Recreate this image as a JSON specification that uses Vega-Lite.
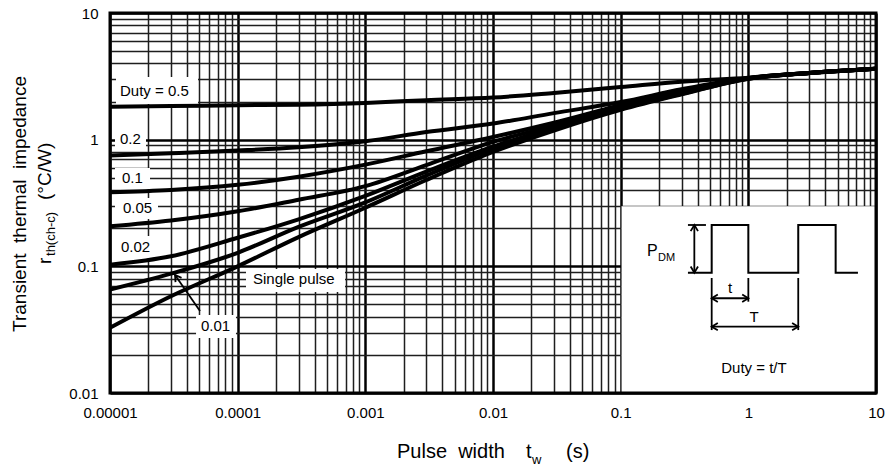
{
  "$schema": "https://vega.github.io/schema/vega-lite/v6.json",
  "width": 766,
  "height": 380,
  "autosize": {"type": "none"},
  "padding": {"left": 110, "top": 13, "right": 12, "bottom": 77},
  "background": "white",
  "config": {"view": {"stroke": null}, "font": "Liberation Sans", "text": {"font": "Liberation Sans", "color": "black"}},
  "datasets": {
    "curves": [
      {"duty": "0.5", "x": 0.00001, "y": 1.82}, {"duty": "0.5", "x": 0.00003, "y": 1.84}, {"duty": "0.5", "x": 0.0001, "y": 1.87}, {"duty": "0.5", "x": 0.0003, "y": 1.89}, {"duty": "0.5", "x": 0.001, "y": 1.95}, {"duty": "0.5", "x": 0.003, "y": 2.05}, {"duty": "0.5", "x": 0.01, "y": 2.15}, {"duty": "0.5", "x": 0.03, "y": 2.34}, {"duty": "0.5", "x": 0.1, "y": 2.6}, {"duty": "0.5", "x": 0.3, "y": 2.87}, {"duty": "0.5", "x": 1, "y": 3.08}, {"duty": "0.5", "x": 3, "y": 3.36}, {"duty": "0.5", "x": 10, "y": 3.63},
      {"duty": "0.2", "x": 0.00001, "y": 0.75}, {"duty": "0.2", "x": 0.00003, "y": 0.78}, {"duty": "0.2", "x": 0.0001, "y": 0.82}, {"duty": "0.2", "x": 0.0003, "y": 0.87}, {"duty": "0.2", "x": 0.001, "y": 0.97}, {"duty": "0.2", "x": 0.003, "y": 1.15}, {"duty": "0.2", "x": 0.01, "y": 1.34}, {"duty": "0.2", "x": 0.03, "y": 1.62}, {"duty": "0.2", "x": 0.1, "y": 1.98}, {"duty": "0.2", "x": 0.3, "y": 2.5}, {"duty": "0.2", "x": 1, "y": 3.07}, {"duty": "0.2", "x": 3, "y": 3.36}, {"duty": "0.2", "x": 10, "y": 3.63},
      {"duty": "0.1", "x": 0.00001, "y": 0.384}, {"duty": "0.1", "x": 0.00003, "y": 0.4}, {"duty": "0.1", "x": 0.0001, "y": 0.44}, {"duty": "0.1", "x": 0.0003, "y": 0.51}, {"duty": "0.1", "x": 0.001, "y": 0.635}, {"duty": "0.1", "x": 0.003, "y": 0.81}, {"duty": "0.1", "x": 0.01, "y": 1.05}, {"duty": "0.1", "x": 0.03, "y": 1.36}, {"duty": "0.1", "x": 0.1, "y": 1.87}, {"duty": "0.1", "x": 0.3, "y": 2.41}, {"duty": "0.1", "x": 1, "y": 3.06}, {"duty": "0.1", "x": 3, "y": 3.36}, {"duty": "0.1", "x": 10, "y": 3.63},
      {"duty": "0.05", "x": 0.00001, "y": 0.207}, {"duty": "0.05", "x": 0.00003, "y": 0.23}, {"duty": "0.05", "x": 0.0001, "y": 0.272}, {"duty": "0.05", "x": 0.0003, "y": 0.336}, {"duty": "0.05", "x": 0.001, "y": 0.43}, {"duty": "0.05", "x": 0.003, "y": 0.63}, {"duty": "0.05", "x": 0.01, "y": 0.96}, {"duty": "0.05", "x": 0.03, "y": 1.29}, {"duty": "0.05", "x": 0.1, "y": 1.82}, {"duty": "0.05", "x": 0.3, "y": 2.36}, {"duty": "0.05", "x": 1, "y": 3.05}, {"duty": "0.05", "x": 3, "y": 3.36}, {"duty": "0.05", "x": 10, "y": 3.63},
      {"duty": "0.02", "x": 0.00001, "y": 0.103}, {"duty": "0.02", "x": 0.00003, "y": 0.12}, {"duty": "0.02", "x": 0.0001, "y": 0.168}, {"duty": "0.02", "x": 0.0003, "y": 0.235}, {"duty": "0.02", "x": 0.001, "y": 0.36}, {"duty": "0.02", "x": 0.003, "y": 0.56}, {"duty": "0.02", "x": 0.01, "y": 0.88}, {"duty": "0.02", "x": 0.03, "y": 1.24}, {"duty": "0.02", "x": 0.1, "y": 1.78}, {"duty": "0.02", "x": 0.3, "y": 2.33}, {"duty": "0.02", "x": 1, "y": 3.04}, {"duty": "0.02", "x": 3, "y": 3.36}, {"duty": "0.02", "x": 10, "y": 3.63},
      {"duty": "0.01", "x": 0.00001, "y": 0.0655}, {"duty": "0.01", "x": 0.00003, "y": 0.0875}, {"duty": "0.01", "x": 0.0001, "y": 0.128}, {"duty": "0.01", "x": 0.0003, "y": 0.205}, {"duty": "0.01", "x": 0.001, "y": 0.32}, {"duty": "0.01", "x": 0.003, "y": 0.52}, {"duty": "0.01", "x": 0.01, "y": 0.85}, {"duty": "0.01", "x": 0.03, "y": 1.21}, {"duty": "0.01", "x": 0.1, "y": 1.75}, {"duty": "0.01", "x": 0.3, "y": 2.3}, {"duty": "0.01", "x": 1, "y": 3.03}, {"duty": "0.01", "x": 3, "y": 3.36}, {"duty": "0.01", "x": 10, "y": 3.63},
      {"duty": "single", "x": 0.00001, "y": 0.0327}, {"duty": "single", "x": 0.00003, "y": 0.058}, {"duty": "single", "x": 0.0001, "y": 0.1}, {"duty": "single", "x": 0.0003, "y": 0.17}, {"duty": "single", "x": 0.001, "y": 0.29}, {"duty": "single", "x": 0.003, "y": 0.48}, {"duty": "single", "x": 0.01, "y": 0.8}, {"duty": "single", "x": 0.03, "y": 1.18}, {"duty": "single", "x": 0.1, "y": 1.72}, {"duty": "single", "x": 0.3, "y": 2.28}, {"duty": "single", "x": 1, "y": 3.02}, {"duty": "single", "x": 3, "y": 3.36}, {"duty": "single", "x": 10, "y": 3.63}
    ],
    "boxes": [
      {"x": 0.1016, "x2": 10, "y": 0.01, "y2": 0.2975},
      {"x": 0.00001114, "x2": 0.0000489, "y": 1.912, "y2": 3.123},
      {"x": 0.00001094, "x2": 0.00001914, "y": 0.8287, "y2": 1.214},
      {"x": 0.00001094, "x2": 0.00002058, "y": 0.4079, "y2": 0.5975},
      {"x": 0.00001094, "x2": 0.00002377, "y": 0.2364, "y2": 0.3464},
      {"x": 0.00001094, "x2": 0.00002293, "y": 0.1163, "y2": 0.1736},
      {"x": 0.0001162, "x2": 0.000693, "y": 0.0627, "y2": 0.0953},
      {"x": 0.0000472, "x2": 0.000097, "y": 0.02718, "y2": 0.04128}
    ],
    "segments": [
      {"x": 0.3365, "y": 0.212, "x2": 0.4656, "y2": 0.212},
      {"x": 0.3776, "y": 0.212, "x2": 0.3776, "y2": 0.0891},
      {"x": 0.5164, "y": 0.0809, "x2": 0.5164, "y2": 0.0314},
      {"x": 1.0, "y": 0.0809, "x2": 1.0, "y2": 0.0526},
      {"x": 2.46, "y": 0.0809, "x2": 2.46, "y2": 0.0314},
      {"x": 0.5164, "y": 0.056, "x2": 1.0, "y2": 0.056},
      {"x": 0.5164, "y": 0.0334, "x2": 2.46, "y2": 0.0334},
      {"x": 0.0000507, "y": 0.0444, "x2": 0.0000323, "y2": 0.0854}
    ],
    "heads": [
      {"x": 0.3776, "y": 0.212, "dir": 0},
      {"x": 0.3776, "y": 0.0891, "dir": 180},
      {"x": 0.5164, "y": 0.056, "dir": 270},
      {"x": 1.0, "y": 0.056, "dir": 90},
      {"x": 0.5164, "y": 0.0334, "dir": 270},
      {"x": 2.46, "y": 0.0334, "dir": 90},
      {"x": 0.0000323, "y": 0.0854, "dir": 325}
    ],
    "wave": [
      {"i": 0, "x": 0.3365, "y": 0.0891}, {"i": 1, "x": 0.5164, "y": 0.0891}, {"i": 2, "x": 0.5164, "y": 0.212}, {"i": 3, "x": 1.0, "y": 0.212}, {"i": 4, "x": 1.0, "y": 0.0891},
      {"i": 5, "x": 2.46, "y": 0.0891}, {"i": 6, "x": 2.46, "y": 0.212}, {"i": 7, "x": 4.83, "y": 0.212}, {"i": 8, "x": 4.83, "y": 0.0891}, {"i": 9, "x": 7.22, "y": 0.0891}
    ],
    "curveLabels": [
      {"x": 0.00001198, "y": 2.422, "text": "Duty = 0.5"},
      {"x": 0.00001198, "y": 1.012, "text": "0.2"},
      {"x": 0.00001242, "y": 0.498, "text": "0.1"},
      {"x": 0.00001264, "y": 0.2888, "text": "0.05"},
      {"x": 0.00001219, "y": 0.1421, "text": "0.02"},
      {"x": 0.0001318, "y": 0.0794, "text": "Single pulse"},
      {"x": 0.0000516, "y": 0.0338, "text": "0.01"}
    ],
    "insetCentered": [
      {"x": 0.7185, "y": 0.0616, "text": "t"},
      {"x": 1.107, "y": 0.03635, "text": "T"},
      {"x": 1.107, "y": 0.01439, "text": "Duty = t/T"}
    ],
    "insetP": [{"x": 0.1608, "y": 0.1207, "text": "P"}],
    "insetSub": [{"x": 0.196, "y": 0.1102, "text": "DM"}],
    "xTitle": [
      {"x": 0.00177, "y": 0.003069, "text": "Pulse\u00a0\u00a0width"},
      {"x": 0.01811, "y": 0.003069, "text": "t"},
      {"x": 0.03729, "y": 0.003069, "text": "(s)"}
    ],
    "xTitleSub": [{"x": 0.0202, "y": 0.002751, "text": "w"}],
    "yTitle1": [{"x": 0.000002198, "y": 0.3105, "text": "Transient\u00a0\u00a0thermal\u00a0\u00a0impedance"}],
    "yTitle2": [
      {"x": 0.00000345, "y": 0.1044, "text": "r"},
      {"x": 0.00000345, "y": 0.3341, "text": "(°C/W)"}
    ],
    "yTitle2Sub": [{"x": 0.00000371, "y": 0.1207, "text": "th(ch-c)"}],
    "frame": [{"x": 0.00001, "x2": 10, "y": 0.01, "y2": 10}]
  },
  "encoding": {
    "x": {
      "field": "x", "type": "quantitative",
      "scale": {"type": "log", "domain": [0.00001, 10], "nice": false},
      "axis": {
        "title": null, "domain": false, "ticks": false,
        "values": [0.00001,0.00002,0.00003,0.00004,0.00005,0.00006,0.00007,0.00008,0.00009,0.0001,0.0002,0.0003,0.0004,0.0005,0.0006,0.0007,0.0008,0.0009,0.001,0.002,0.003,0.004,0.005,0.006,0.007,0.008,0.009,0.01,0.02,0.03,0.04,0.05,0.06,0.07,0.08,0.09,0.1,0.2,0.3,0.4,0.5,0.6,0.7,0.8,0.9,1,2,3,4,5,6,7,8,9,10],
        "labelExpr": "abs(log(datum.value)/LN10 - round(log(datum.value)/LN10)) < 0.001 ? (datum.value >= 1 ? format(datum.value, 'd') : format(datum.value, '.' + (-round(log(datum.value)/LN10)) + 'f')) : ''",
        "labelFlush": false, "labelOverlap": false, "labelFont": "Liberation Sans", "labelFontSize": 15, "labelColor": "black", "labelPadding": 12,
        "grid": true, "gridOpacity": 1,
        "gridWidth": {"condition": {"test": "abs(log(datum.value)/LN10 - round(log(datum.value)/LN10)) < 0.001", "value": 2.5}, "value": 1.5},
        "gridColor": {"condition": {"test": "abs(log(datum.value)/LN10 - round(log(datum.value)/LN10)) < 0.001", "value": "#000000"}, "value": "#1e1e1e"}
      }
    },
    "y": {
      "field": "y", "type": "quantitative",
      "scale": {"type": "log", "domain": [0.01, 10], "nice": false},
      "axis": {
        "title": null, "domain": false, "ticks": false,
        "values": [0.01,0.02,0.03,0.04,0.05,0.06,0.07,0.08,0.09,0.1,0.2,0.3,0.4,0.5,0.6,0.7,0.8,0.9,1,2,3,4,5,6,7,8,9,10],
        "labelExpr": "abs(log(datum.value)/LN10 - round(log(datum.value)/LN10)) < 0.001 ? (datum.value >= 1 ? format(datum.value, 'd') : format(datum.value, '.' + (-round(log(datum.value)/LN10)) + 'f')) : ''",
        "labelFlush": false, "labelOverlap": false, "labelFont": "Liberation Sans", "labelFontSize": 15, "labelColor": "black", "labelPadding": 12,
        "grid": true, "gridOpacity": 1,
        "gridWidth": {"condition": {"test": "abs(log(datum.value)/LN10 - round(log(datum.value)/LN10)) < 0.001", "value": 2.5}, "value": 1.5},
        "gridColor": {"condition": {"test": "abs(log(datum.value)/LN10 - round(log(datum.value)/LN10)) < 0.001", "value": "#000000"}, "value": "#1e1e1e"}
      }
    }
  },
  "layer": [
    {"data": {"name": "boxes"}, "mark": {"type": "rect", "fill": "white", "stroke": null}, "encoding": {"x2": {"field": "x2"}, "y2": {"field": "y2"}}},
    {"data": {"name": "curves"}, "mark": {"type": "line", "color": "black", "strokeWidth": 4, "interpolate": "monotone", "clip": true}, "encoding": {"detail": {"field": "duty", "type": "nominal"}}},
    {"data": {"name": "wave"}, "mark": {"type": "line", "color": "black", "strokeWidth": 2}, "encoding": {"order": {"field": "i", "type": "quantitative"}}},
    {"data": {"name": "segments"}, "mark": {"type": "rule", "color": "black", "strokeWidth": 1.8}, "encoding": {"x2": {"field": "x2"}, "y2": {"field": "y2"}}},
    {"data": {"name": "heads"}, "mark": {"type": "point", "shape": "M -0.6 1 L 0 0 L 0.6 1", "filled": false, "stroke": "black", "strokeWidth": 1.8, "size": 150, "opacity": 1}, "encoding": {"angle": {"field": "dir", "type": "quantitative", "scale": null}}},
    {"data": {"name": "curveLabels"}, "mark": {"type": "text", "align": "left", "baseline": "middle", "fontSize": 15}, "encoding": {"text": {"field": "text"}}},
    {"data": {"name": "insetCentered"}, "mark": {"type": "text", "align": "center", "baseline": "alphabetic", "fontSize": 15}, "encoding": {"text": {"field": "text"}}},
    {"data": {"name": "insetP"}, "mark": {"type": "text", "align": "left", "baseline": "alphabetic", "fontSize": 16}, "encoding": {"text": {"field": "text"}}},
    {"data": {"name": "insetSub"}, "mark": {"type": "text", "align": "left", "baseline": "alphabetic", "fontSize": 11}, "encoding": {"text": {"field": "text"}}},
    {"data": {"name": "xTitle"}, "mark": {"type": "text", "align": "left", "baseline": "alphabetic", "fontSize": 20}, "encoding": {"text": {"field": "text"}}},
    {"data": {"name": "xTitleSub"}, "mark": {"type": "text", "align": "left", "baseline": "alphabetic", "fontSize": 13}, "encoding": {"text": {"field": "text"}}},
    {"data": {"name": "yTitle1"}, "mark": {"type": "text", "align": "center", "baseline": "alphabetic", "angle": 270, "fontSize": 19}, "encoding": {"text": {"field": "text"}}},
    {"data": {"name": "yTitle2"}, "mark": {"type": "text", "align": "left", "baseline": "alphabetic", "angle": 270, "fontSize": 19}, "encoding": {"text": {"field": "text"}}},
    {"data": {"name": "yTitle2Sub"}, "mark": {"type": "text", "align": "left", "baseline": "alphabetic", "angle": 270, "fontSize": 13}, "encoding": {"text": {"field": "text"}}},
    {"data": {"name": "frame"}, "mark": {"type": "rect", "fill": null, "fillOpacity": 0, "stroke": "black", "strokeWidth": 3}, "encoding": {"x2": {"field": "x2"}, "y2": {"field": "y2"}}}
  ]
}
